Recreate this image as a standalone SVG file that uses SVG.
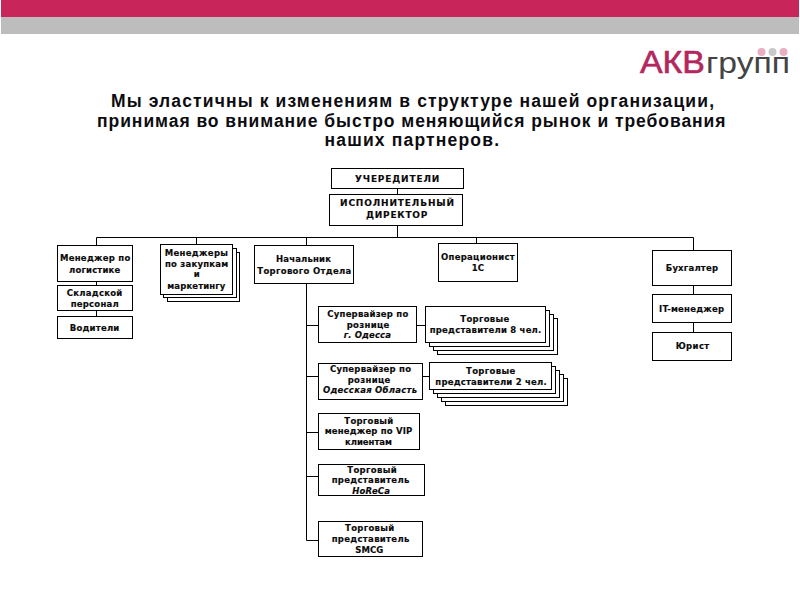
<svg xmlns="http://www.w3.org/2000/svg" width="800" height="600" viewBox="0 0 800 600">
<style>
.b{fill:#fff;stroke:#000;stroke-width:1}
.c{fill:none;stroke:#000;stroke-width:1}
text{font-family:"DejaVu Sans","Liberation Sans",sans-serif;font-weight:bold;font-size:8.5px;fill:#0a0a0a;stroke:#0a0a0a;stroke-width:.15}
.i{font-style:italic}
.t{font-family:"Liberation Sans",Arial,sans-serif;font-size:17.5px;fill:#0c0c10;stroke:none}
.m{font-size:9px}
.l{font-family:"Liberation Sans",Arial,sans-serif;font-weight:normal;font-size:31px;fill:#b3275f;stroke:#b3275f;stroke-width:.6}
.g{font-family:"Liberation Sans",Arial,sans-serif;font-weight:normal;font-size:29px;fill:#444;stroke:none}
</style>
<rect width="800" height="600" fill="#fff"/>
<g id="header">
<rect x="1" y="0" width="798" height="17" fill="#c8255a"/>
<rect x="1" y="17" width="798" height="17" fill="#bdbdbd"/>
</g>
<g id="logo">
<text class="l" x="640" y="73" textLength="65" lengthAdjust="spacingAndGlyphs">АКВ</text>
<text class="g" x="706" y="73" textLength="84" lengthAdjust="spacingAndGlyphs">групп</text>
<circle cx="761.5" cy="52" r="4" fill="#e8aec4"/>
<circle cx="772.5" cy="52" r="4" fill="#c9c9c9"/>
<circle cx="783.5" cy="52" r="4" fill="#e8aec4"/>
</g>
<g id="title">
<text class="t" x="111" y="107" textLength="603">Мы эластичны к изменениям в структуре нашей организации,</text>
<text class="t" x="97" y="127" textLength="628.5">принимая во внимание быстро меняющийся рынок и требования</text>
<text class="t" x="324.5" y="146" textLength="174.5">наших партнеров.</text>
</g>
<g id="connectors">
<path class="c" d="M397.5 188V194M397.5 225V237.5M96.5 245V237.5H693.5V250M196.5 237.5V244M306.5 237.5V245M476.5 237.5V243M96.5 281V285M96.5 311V316M693.5 286V294M693.5 323V332M306.5 284V540.5H318M306.5 325.5H318M306.5 376.5H318M306.5 432.5H318M306.5 476.5H318M417 325.5H426M422 376.5H429"/>
</g>
<g id="n-founders"><rect class="b" x="331.5" y="168.5" width="132" height="20"/><text class="m" x="355" y="182" textLength="84.3">УЧЕРЕДИТЕЛИ</text></g>
<g id="n-director"><rect class="b" x="329.5" y="194.5" width="133" height="31"/><text class="m" x="340" y="206.3" textLength="114">ИСПОЛНИТЕЛЬНЫЙ</text><text class="m" x="366" y="218.3" textLength="61.3">ДИРЕКТОР</text></g>
<g id="n-logistics"><rect class="b" x="57.5" y="245.5" width="75" height="36"/><text x="60" y="261" textLength="70.3">Менеджер по</text><text x="69" y="272.7" textLength="51.3">логистике</text></g>
<g id="n-warehouse"><rect class="b" x="57.5" y="285.5" width="75" height="25"/><text x="66.7" y="296.3" textLength="55.6">Складской</text><text x="70.7" y="307.3" textLength="48">персонал</text></g>
<g id="n-drivers"><rect class="b" x="57.5" y="316.5" width="75" height="22"/><text x="69.7" y="331" textLength="49.6">Водители</text></g>
<g id="n-purchasing">
<rect class="b" x="167.5" y="252.5" width="72" height="49"/><rect class="b" x="163.5" y="248.5" width="73" height="49"/><rect class="b" x="160.5" y="244.5" width="72" height="50"/>
<text x="164.7" y="255.7" textLength="63.3">Менеджеры</text><text x="165" y="266.7" textLength="63.3">по закупкам</text><text x="193.7" y="277.3">и</text><text x="167.3" y="288.7" textLength="58">маркетингу</text></g>
<g id="n-sales-head"><rect class="b" x="254.5" y="245.5" width="99" height="38"/><text x="276" y="262" textLength="55">Начальник</text><text x="257.3" y="273.7" textLength="94">Торгового Отдела</text></g>
<g id="n-operator"><rect class="b" x="438.5" y="243.5" width="79" height="38"/><text x="441" y="260" textLength="73.7">Операционист</text><text x="471.7" y="271" textLength="12.3">1С</text></g>
<g id="n-accountant"><rect class="b" x="652.5" y="250.5" width="79" height="35"/><text x="665.7" y="271" textLength="52.3">Бухгалтер</text></g>
<g id="n-it"><rect class="b" x="652.5" y="294.5" width="79" height="28"/><text x="659" y="312" textLength="65">IT-менеджер</text></g>
<g id="n-lawyer"><rect class="b" x="652.5" y="332.5" width="79" height="28"/><text x="675.7" y="349.3" textLength="33.6">Юрист</text></g>
<g id="n-sup-odessa"><rect class="b" x="318.5" y="306.5" width="98" height="36"/><text x="327.3" y="317.3" textLength="81">Супервайзер по</text><text x="346.7" y="328.3" textLength="42.6">рознице</text><text class="i" x="343.7" y="338.3" textLength="47.3">г. Одесса</text></g>
<g id="n-reps-8">
<rect class="b" x="437.5" y="318.5" width="120" height="36"/><rect class="b" x="433.5" y="314.5" width="120" height="36"/><rect class="b" x="429.5" y="310.5" width="120" height="36"/><rect class="b" x="425.5" y="306.5" width="120" height="36"/>
<text x="460.3" y="322" textLength="49">Торговые</text><text x="429.7" y="333" textLength="111.6">представители 8 чел.</text></g>
<g id="n-sup-region"><rect class="b" x="318.5" y="363.5" width="104" height="36"/><text x="330" y="372.3" textLength="81">Супервайзер по</text><text x="347.7" y="383.3" textLength="42.6">рознице</text><text class="i" x="323" y="393.3" textLength="94">Одесская Область</text></g>
<g id="n-reps-2">
<rect class="b" x="445.5" y="378.5" width="122" height="27"/><rect class="b" x="441.5" y="374.5" width="122" height="27"/><rect class="b" x="437.5" y="370.5" width="122" height="27"/><rect class="b" x="433.5" y="366.5" width="122" height="27"/><rect class="b" x="429.5" y="362.5" width="122" height="27"/>
<text x="466" y="374" textLength="49.3">Торговые</text><text x="435.3" y="384.7" textLength="111.4">представители 2 чел.</text></g>
<g id="n-vip"><rect class="b" x="318.5" y="413.5" width="101" height="36"/><text x="344.3" y="423.7" textLength="49">Торговый</text><text x="324.7" y="434.3" textLength="87.6">менеджер по VIP</text><text x="345" y="445.3" textLength="47">клиентам</text></g>
<g id="n-horeca"><rect class="b" x="318.5" y="464.5" width="106" height="31"/><text x="347.3" y="473.3" textLength="49.4">Торговый</text><text x="331.7" y="483.3" textLength="77.6">представитель</text><text class="i" x="352.3" y="494" textLength="37.7">HoReCa</text></g>
<g id="n-smcg"><rect class="b" x="318.5" y="521.5" width="104" height="35"/><text x="345" y="531" textLength="49.3">Торговый</text><text x="331.7" y="541.7" textLength="77.6">представитель</text><text x="355.3" y="553.3" textLength="28">SMCG</text></g>
</svg>
